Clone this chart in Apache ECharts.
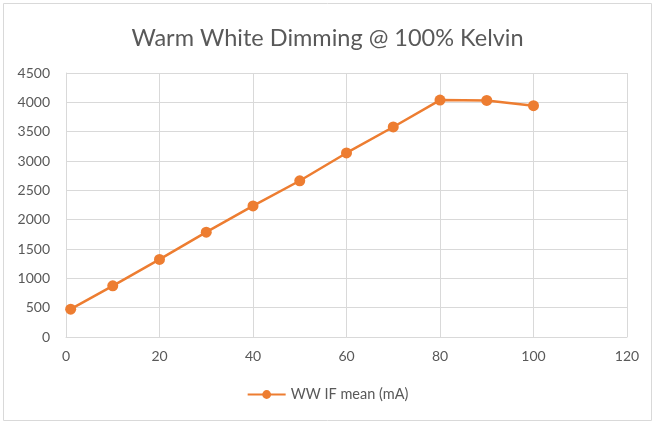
<!DOCTYPE html>
<html><head><meta charset="utf-8">
<script src="https://cdn.jsdelivr.net/npm/echarts@6/dist/echarts.min.js"></script>
<style>html,body{margin:0;padding:0;background:#fff}#c{width:655px;height:424px}</style>
</head><body><div id="c"></div>
<script>
const titleText = 'Warm White Dimming @ 100% Kelvin';
const seriesName = 'WW IF mean (mA)';
const xValues = [1, 10, 20, 30, 40, 50, 60, 70, 80, 90, 100];
const yValues = [475, 872, 1322, 1787, 2235, 2663, 3137, 3580, 4038, 4032, 3943];
const chart = echarts.init(document.getElementById('c'));
const font = 'Lato, "Open Sans", sans-serif';
chart.setOption({
  animation: false,
  graphic: [{type: 'rect', shape: {x: 3.5, y: 3.5, width: 648, height: 417}, style: {fill: 'none', stroke: '#d9d9d9', lineWidth: 1}, silent: true}],
  title: {text: titleText, left: 'center', top: 21, textStyle: {fontFamily: font, fontSize: 23.5, fontWeight: 'normal', color: '#595959'}},
  grid: {left: 66, right: 28, top: 73, bottom: 87},
  legend: {bottom: 17, left: 'center', itemWidth: 38, itemHeight: 11, itemGap: 4, textStyle: {fontFamily: font, fontSize: 14.5, color: '#595959'}, data: [seriesName]},
  xAxis: {type: 'value', min: 0, max: 120, interval: 20,
    axisLine: {show: true, lineStyle: {color: '#d9d9d9'}}, axisTick: {show: false},
    axisLabel: {fontFamily: font, fontSize: 14, color: '#595959', margin: 12},
    splitLine: {show: true, lineStyle: {color: '#d9d9d9'}}},
  yAxis: {type: 'value', min: 0, max: 4500, interval: 500,
    axisLine: {show: true, lineStyle: {color: '#d9d9d9'}}, axisTick: {show: false},
    axisLabel: {fontFamily: font, fontSize: 14, color: '#595959', margin: 16, formatter: v => String(v)},
    splitLine: {show: true, lineStyle: {color: '#d9d9d9'}}},
  series: [{name: seriesName, type: 'line', data: xValues.map((x, i) => [x, yValues[i]]),
    symbol: 'circle', symbolSize: 11, itemStyle: {color: '#ED7D31'}, lineStyle: {color: '#ED7D31', width: 2.5}}]
});
</script></body></html>
